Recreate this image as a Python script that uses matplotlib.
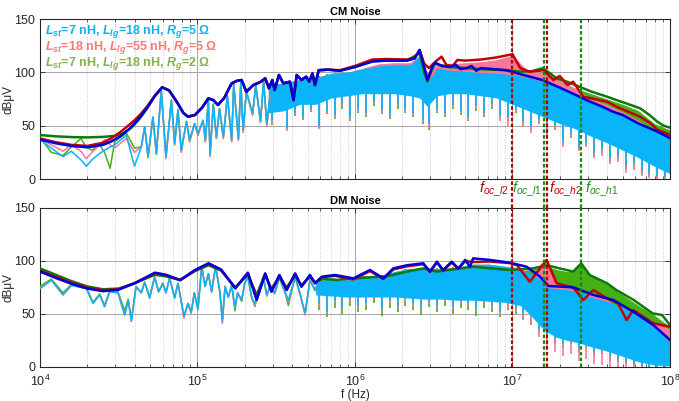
import numpy as np
import matplotlib
matplotlib.use('Agg')
import matplotlib.pyplot as plt
import matplotlib.transforms as mtransforms

plt.rcParams['font.family'] = ['Liberation Sans', 'DejaVu Sans']
plt.rcParams['mathtext.fontset'] = 'custom'
plt.rcParams['mathtext.rm'] = 'Liberation Sans'
plt.rcParams['mathtext.it'] = 'Liberation Sans:italic'
plt.rcParams['mathtext.bf'] = 'Liberation Sans:bold'
plt.rcParams['mathtext.bfit'] = 'Liberation Sans:italic:bold'

# ---------------- data (frequencies as log10(f/Hz), levels in dBuV) ----------------
legend_labels = [r'$\mathbfit{L_{st}}$=7 nH, $\mathbfit{L_{lg}}$=18 nH, $\mathbfit{R_g}$=5 Ω',
                 r'$\mathbfit{L_{st}}$=18 nH, $\mathbfit{L_{lg}}$=55 nH, $\mathbfit{R_g}$=5 Ω',
                 r'$\mathbfit{L_{st}}$=7 nH, $\mathbfit{L_{lg}}$=18 nH, $\mathbfit{R_g}$=2 Ω']

vline_freqs = [1.0e7, 1.58e7, 1.65e7, 2.73e7]
vline_labels = [r'$f_{oc\_l2}$', r'$f_{oc\_l1}$', r'$f_{oc\_h2}$', r'$f_{oc\_h1}$']

# ---- CM noise: envelopes
cm_env_blue_f = [4.00, 4.10, 4.20, 4.30, 4.40, 4.45, 4.51, 4.56, 4.60, 4.64, 4.68, 4.73, 4.776, 4.82, 4.87,
                 4.91, 4.94, 4.984, 5.03, 5.069, 5.10, 5.13, 5.17, 5.217, 5.25, 5.28, 5.31, 5.354, 5.40, 5.43,
                 5.454, 5.475, 5.49, 5.517, 5.545, 5.587, 5.61, 5.63, 5.66, 5.69, 5.71, 5.73, 5.746, 5.77,
                 5.83, 5.905, 6.00, 6.11, 6.20, 6.33, 6.38, 6.41, 6.44, 6.46, 6.49, 6.51, 6.55, 6.60, 6.64,
                 6.67, 6.71, 6.74, 6.77, 6.80, 6.96, 7.07, 7.19, 7.28, 7.38, 7.47, 7.57, 7.64, 7.70, 7.80,
                 7.92, 8.00]
cm_env_blue = [37, 33.5, 31, 29.7, 32, 35, 40, 46, 52, 59, 67, 78, 86, 83, 72,
               62, 58.4, 60, 67, 75.6, 74, 69.4, 76, 89.7, 92, 92.8, 81.8, 88, 91, 94.4,
               85, 92.8, 83.4, 97.5, 89.7, 91.2, 74, 97.5, 92.8, 95.9, 91.2, 99, 88, 102,
               102.5, 101.5, 105, 110, 111, 111, 113, 121, 105, 92.8, 105, 109, 106, 105, 107,
               103, 104, 106, 101.5, 104, 102, 97.5, 92.8, 87, 80.3, 74, 67.8, 63, 60, 52,
               44.4, 38.4]

cm_env_red_f = [4.00, 4.10, 4.20, 4.30, 4.40, 4.45, 4.51, 4.56, 4.60, 4.64, 4.68, 4.73, 4.776, 4.82, 4.87,
                4.91, 4.94, 4.984, 5.03, 5.069, 5.10, 5.13, 5.17, 5.217, 5.25, 5.28, 5.31, 5.354, 5.40, 5.43,
                5.454, 5.475, 5.49, 5.517, 5.545, 5.587, 5.61, 5.63, 5.66, 5.69, 5.71, 5.73, 5.746, 5.77,
                5.83, 5.905, 6.00, 6.11, 6.20, 6.33, 6.38, 6.41, 6.44, 6.47, 6.51, 6.55, 6.58, 6.62, 6.65,
                6.70, 6.80, 6.90, 7.00, 7.05, 7.11, 7.20, 7.26, 7.30, 7.35, 7.385, 7.45, 7.52, 7.60, 7.66,
                7.72, 7.81, 7.88, 7.92, 7.96, 8.00]
cm_env_red = [38, 34.5, 32, 31, 34, 38, 44, 50, 55, 61, 68, 78.5, 86, 83, 72,
              62, 58.4, 60, 67, 75.6, 74, 69.4, 76, 89.7, 92, 92.8, 81.8, 88, 91, 94.4,
              85, 92.8, 83.4, 97.5, 89.7, 91.2, 74, 97.5, 92.8, 95.9, 91.2, 99, 88, 102,
              102.5, 102, 106, 112, 112.5, 112, 114, 121, 108, 104, 110, 114.7, 107, 106, 111.6,
              111, 112, 114, 117, 103.8, 100.6, 102, 92.8, 96.6, 88, 91.2, 77.2, 75, 72.5, 67.8,
              64, 58.4, 52, 46, 44, 41.2]

cm_env_green_f = [4.00, 4.10, 4.20, 4.30, 4.40, 4.48, 4.53, 4.58, 4.63, 4.68, 4.73, 4.776, 4.82, 4.87,
                  4.91, 4.94, 4.984, 5.03, 5.069, 5.10, 5.13, 5.17, 5.217, 5.25, 5.28, 5.31, 5.354, 5.40, 5.43,
                  5.454, 5.475, 5.49, 5.517, 5.545, 5.587, 5.61, 5.63, 5.66, 5.69, 5.71, 5.73, 5.746, 5.77,
                  5.83, 5.905, 6.00, 6.11, 6.33, 6.41, 6.44, 6.46, 6.49, 6.51, 6.60, 6.70, 6.80, 6.96, 7.05,
                  7.12, 7.19, 7.24, 7.28, 7.35, 7.43, 7.50, 7.60, 7.66, 7.72, 7.81, 7.87, 7.92, 7.96, 8.00]
cm_env_green = [41.2, 40, 39.3, 39, 39.5, 40.5, 43, 48, 56, 66, 78, 86, 83, 72,
                62, 58.4, 60, 67, 75.6, 74, 69.4, 76, 89.7, 92, 92.8, 81.8, 88, 91, 94.4,
                85, 92.8, 83.4, 97.5, 89.7, 91.2, 74, 97.5, 92.8, 95.9, 91.2, 99, 88, 102,
                102.5, 101.5, 105, 111, 111, 118, 100, 91.2, 103, 108, 105, 104, 103, 102, 100.6,
                101, 103.8, 99, 94.4, 91, 86.2, 82, 77.2, 74, 71, 66.3, 60, 53.7, 50, 48.1]

# ---- CM noise: low-frequency harmonics
cm_zig_f = [4.00, 4.072, 4.146, 4.199, 4.26, 4.294, 4.33, 4.379, 4.41, 4.445, 4.474, 4.548, 4.60, 4.643,
            4.665, 4.686, 4.717, 4.739, 4.77, 4.80, 4.834, 4.855, 4.876, 4.897, 4.93, 4.95, 4.982, 5.003,
            5.035, 5.05, 5.069, 5.08, 5.10, 5.12, 5.14, 5.164, 5.19, 5.217, 5.23, 5.26, 5.275, 5.29, 5.31,
            5.35, 5.37, 5.40, 5.42, 5.44, 5.47]
cm_zig_blue = [37, 29, 21, 26, 18, 12, 18, 24, 27, 30, 32, 41, 12, 30, 49, 21, 58, 24, 83, 21, 74, 33, 65,
               27, 54, 37, 52, 43, 55, 37, 74, 23, 70, 40, 66, 40, 78, 37, 89, 38, 91, 46, 82, 62, 88, 55,
               92, 52, 90]
cm_zig_pink = [38, 32, 26, 32, 26, 19, 25, 32, 37, 32, 29, 38, 25, 30, 49, 21, 58, 24, 83, 19, 74, 33, 65,
               25, 54, 35, 52, 41, 55, 35, 74, 21, 70, 38, 66, 38, 78, 35, 89, 36, 91, 44, 82, 60, 88, 53,
               92, 50, 90]
cm_zig_green = [39, 25, 22, 30, 38, 30, 27, 32, 25, 10, 35, 43, 29, 30, 49, 20, 58, 23, 83, 20, 74, 32, 65,
                26, 54, 35, 52, 41, 55, 35, 74, 22, 70, 38, 66, 38, 78, 35, 89, 37, 91, 44, 82, 60, 88, 53,
                92, 50, 90]

# ---- CM noise: dense part (upper / lower edge of the spike band)
cm_band_f = [5.45, 5.55, 5.65, 5.75, 5.85, 5.95, 6.05, 6.15, 6.25, 6.35, 6.41, 6.46, 6.52, 6.60, 6.70,
             6.80, 6.90, 7.00, 7.10, 7.20, 7.30, 7.40, 7.50, 7.60, 7.70, 7.80, 7.90, 8.00]
cm_blue_hi = [88, 90, 93, 95, 99, 100, 103, 106, 107, 107, 115, 90, 104, 102, 101, 100, 99, 98, 95, 91,
              86, 79, 73, 66, 59, 52, 45, 38]
cm_blue_lo = [62, 64, 70, 70, 76, 78, 80, 80, 80, 78, 76, 68, 78, 80, 80, 78, 76, 70, 64, 58, 52, 47, 40,
              34, 27, 20, 12, 5]
cm_pink_hi = [88, 90, 93, 95, 99, 100, 104, 108, 109, 109, 116, 100, 107, 108, 109, 110, 112, 116, 101,
              100, 93, 85, 75, 70, 63, 55, 45, 40]
cm_pink_lo = [65, 67, 73, 73, 79, 81, 83, 83, 83, 81, 79, 71, 81, 83, 83, 81, 79, 73, 67, 61, 55, 50, 43,
              37, 30, 23, 15, 8]
cm_green_hi = [88, 90, 93, 95, 99, 100, 103, 106, 107, 107, 112, 88, 103, 102, 101, 100, 99, 99, 99, 101,
               90, 85, 80, 75, 70, 64, 52, 46]
cm_green_lo = [65, 67, 73, 73, 79, 81, 83, 83, 83, 81, 79, 71, 81, 83, 83, 81, 79, 73, 67, 61, 55, 50, 43,
               37, 30, 23, 15, 8]

# ---- CM noise: deepest spikes of the dense part
cm_spk_f = [5.47, 5.52, 5.57, 5.62, 5.67, 5.72, 5.77, 5.82, 5.87, 5.92, 5.97, 6.02, 6.07, 6.12, 6.17,
            6.22, 6.27, 6.32, 6.37, 6.43, 6.47, 6.52, 6.57, 6.62, 6.67, 6.72, 6.77, 6.82, 6.87, 6.92,
            6.97, 7.02, 7.07, 7.12, 7.17, 7.22, 7.27, 7.32, 7.37, 7.42, 7.47, 7.52, 7.57, 7.62, 7.67,
            7.72, 7.77, 7.82, 7.87, 7.92, 7.97]
cm_spk_top = [85, 88, 88, 90, 92, 95, 97, 98, 99, 100, 100, 102, 104, 105, 105, 106, 106, 106, 106, 100,
              95, 100, 100, 100, 100, 100, 98, 98, 98, 97, 97, 95, 93, 90, 88, 86, 83, 80, 76, 73,
              70, 67, 63, 60, 57, 54, 50, 47, 44, 40, 36]
cm_spk_blue = [55, 66, 48, 62, 58, 66, 50, 64, 60, 70, 58, 66, 62, 72, 65, 60, 70, 66, 62, 56,
               52, 66, 62, 70, 64, 58, 68, 62, 70, 60, 58, 66, 54, 50, 56, 44, 50, 36, 42, 30,
               34, 24, 28, 20, 22, 12, 15, 8, 5, 3, 2]
cm_spk_pink = [52, 64, 45, 60, 56, 64, 47, 62, 57, 68, 55, 63, 60, 70, 62, 57, 68, 63, 60, 53,
               48, 63, 60, 67, 62, 55, 66, 60, 67, 54, 50, 63, 50, 43, 52, 40, 46, 30, 38, 26,
               30, 20, 22, 14, 16, 6, 8, 3, 1, 0, 0]
cm_spk_green = [51, 63, 46, 59, 55, 63, 48, 61, 56, 66, 54, 62, 58, 68, 61, 56, 66, 62, 58, 52,
                46, 62, 58, 66, 60, 54, 64, 58, 66, 56, 54, 62, 50, 46, 52, 40, 46, 32, 38, 27,
                31, 21, 24, 16, 18, 9, 11, 5, 3, 1, 0]

# ---- DM noise: envelopes
dm_env_blue_f = [4.00, 4.10, 4.20, 4.30, 4.40, 4.50, 4.60, 4.73, 4.80, 4.89, 4.984, 5.07, 5.15, 5.24,
                 5.32, 5.376, 5.43, 5.47, 5.52, 5.566, 5.62, 5.66, 5.714, 5.746, 5.79, 5.873, 5.99, 6.095,
                 6.18, 6.243, 6.33, 6.434, 6.476, 6.52, 6.56, 6.614, 6.656, 6.70, 6.73, 6.75, 6.857, 6.984,
                 7.09, 7.175, 7.228, 7.386, 7.513, 7.64, 7.767, 7.894, 8.00]
dm_env_blue = [90, 84, 78.5, 74, 71.5, 73, 79, 89, 87, 82, 91.5, 97.8, 92, 74.2,
               89, 63.2, 88.3, 71, 86.8, 72.6, 88.3, 75.8, 86.8, 79, 85.2, 86.8, 83.6, 91.5,
               83.6, 93, 96, 97.8, 90, 99.4, 91.5, 99.4, 93, 101, 94.6, 102.5, 101, 98.4,
               94.6, 85.2, 76.4, 75.2, 68, 63.2, 52.2, 39.6, 25.5]

dm_env_red_f = [4.00, 4.10, 4.20, 4.30, 4.40, 4.50, 4.60, 4.73, 4.80, 4.89, 4.984, 5.07, 5.15, 5.24,
                5.32, 5.376, 5.43, 5.47, 5.52, 5.566, 5.62, 5.66, 5.714, 5.746, 5.79, 5.873, 5.99, 6.095,
                6.18, 6.243, 6.33, 6.434, 6.476, 6.52, 6.56, 6.614, 6.656, 6.70, 6.75, 6.857, 6.984, 7.03,
                7.11, 7.217, 7.28, 7.386, 7.45, 7.513, 7.60, 7.67, 7.725, 7.767, 7.894, 8.00]
dm_env_red = [91, 85, 79.5, 75, 72.5, 73.5, 79, 88.5, 86.5, 82, 91, 97.5, 91.5, 74.5,
              88.5, 64, 88, 71.5, 86.3, 73, 87.8, 76, 86.3, 79, 84.7, 86, 82.6, 90.5,
              83, 92, 95, 97, 89.5, 98.5, 91, 98.5, 92.5, 100, 99, 99.5, 98, 96,
              80.5, 101, 79, 75, 63.2, 72.6, 64.8, 60, 44.3, 53.7, 41.2, 38]

dm_env_green_f = [4.00, 4.10, 4.20, 4.30, 4.40, 4.50, 4.60, 4.73, 4.80, 4.89, 4.984, 5.07, 5.15, 5.24,
                  5.32, 5.376, 5.43, 5.47, 5.52, 5.566, 5.62, 5.66, 5.714, 5.746, 5.80, 5.90, 5.905, 6.21,
                  6.33, 6.434, 6.52, 6.75, 6.98, 7.13, 7.217, 7.30, 7.386, 7.437, 7.49, 7.60, 7.66, 7.77,
                  7.89, 7.95, 8.00]
dm_env_green = [93, 87, 81, 76, 73.3, 74, 79, 87, 85.5, 82, 90.5, 96, 91, 75,
                87, 68, 86, 74, 85, 75, 86, 77, 85, 80, 83, 82, 82.6, 85.8,
                90, 93, 90, 94.6, 91.5, 93, 96, 93, 90, 97.8, 86.8, 79, 72.6, 63.2,
                50.6, 49, 39.6]

# ---- DM noise: low-frequency harmonics
dm_zig_f = [4.00, 4.072, 4.146, 4.20, 4.294, 4.337, 4.379, 4.41, 4.443, 4.495, 4.538, 4.56, 4.58, 4.61,
            4.643, 4.665, 4.696, 4.728, 4.753, 4.78, 4.80, 4.823, 4.855, 4.876, 4.914, 4.94, 4.96, 4.98,
            5.003, 5.027, 5.048, 5.069, 5.09, 5.115, 5.143, 5.158, 5.175, 5.196, 5.217, 5.238, 5.255,
            5.28, 5.30, 5.32, 5.344, 5.365, 5.386, 5.418, 5.44, 5.46, 5.49, 5.52, 5.556, 5.577, 5.62,
            5.65, 5.683, 5.714, 5.746, 5.77]
dm_zig_blue = [74, 82, 68, 77, 74, 60, 68, 57, 71, 70, 49, 63, 43, 76, 70, 80, 65, 85, 71, 79, 70, 84,
               65, 79, 48, 60, 51, 70, 54, 95, 76, 88, 71, 95, 70, 43, 76, 66, 77, 57, 70, 63, 79, 85,
               66, 60, 73, 85, 68, 76, 70, 84, 71, 63, 85, 70, 51, 82, 73, 80]
dm_zig_pink = [74, 82, 68, 77, 74, 60, 68, 57, 71, 70, 49, 63, 43, 76, 70, 80, 65, 85, 71, 79, 70, 84,
               65, 79, 46, 60, 51, 70, 54, 95, 76, 88, 71, 95, 70, 41, 76, 66, 77, 56, 70, 63, 79, 85,
               66, 58, 73, 85, 68, 76, 70, 84, 71, 61, 85, 70, 49, 82, 73, 80]
dm_zig_green = [76, 83, 70, 78, 75, 61, 69, 58, 72, 71, 53, 64, 45, 76, 70, 80, 66, 85, 71, 79, 70, 84,
                66, 79, 48, 60, 52, 70, 55, 95, 76, 88, 71, 95, 70, 45, 76, 66, 77, 53, 70, 62, 79, 85,
                65, 57, 72, 85, 67, 76, 69, 84, 70, 58, 85, 69, 50, 82, 72, 80]

# ---- DM noise: dense part
dm_band_f = [5.75, 5.85, 5.95, 6.05, 6.15, 6.25, 6.35, 6.45, 6.55, 6.65, 6.75, 6.85, 6.95, 7.05, 7.12,
             7.18, 7.22, 7.28, 7.35, 7.44, 7.50, 7.60, 7.70, 7.80, 7.90, 8.00]
dm_blue_hi = [80, 84, 82, 86, 85, 90, 93, 93, 93, 94, 97, 97, 95, 92, 88, 82, 75, 74, 73, 70, 66, 62,
              56, 48, 37, 24]
dm_blue_lo = [68, 67, 66, 66, 66, 66, 65, 64, 64, 63, 63, 62, 61, 58, 48, 38, 33, 28, 25, 22, 19, 15,
              10, 5, 2, 1]
dm_pink_hi = [80, 84, 82, 86, 85, 90, 93, 93, 93, 94, 97, 97, 95, 94, 85, 98, 99, 80, 76, 68, 70, 64,
              52, 50, 41, 36]
dm_pink_lo = [71, 70, 69, 69, 69, 69, 68, 67, 67, 66, 66, 65, 64, 61, 51, 41, 36, 31, 28, 25, 22, 18,
              13, 8, 5, 4]
dm_green_hi = [80, 82, 82, 84, 85, 88, 90, 92, 91, 92, 93, 93, 91, 91, 92, 94, 95, 92, 90, 96, 86, 78,
               68, 58, 49, 38]
dm_green_lo = [71, 70, 69, 69, 69, 69, 68, 67, 67, 66, 66, 65, 64, 61, 51, 41, 36, 31, 28, 25, 22, 18,
               13, 8, 5, 4]

dm_spk_f = [5.77, 5.82, 5.87, 5.92, 5.97, 6.02, 6.07, 6.12, 6.17, 6.22, 6.27, 6.32, 6.37, 6.42, 6.47,
            6.52, 6.57, 6.62, 6.67, 6.72, 6.77, 6.82, 6.87, 6.92, 6.97, 7.02, 7.07, 7.12, 7.17, 7.22,
            7.27, 7.32, 7.37, 7.42, 7.47, 7.52, 7.57, 7.62, 7.67, 7.72, 7.77, 7.82, 7.87, 7.92, 7.97]
dm_spk_top = [78, 80, 80, 82, 82, 84, 85, 84, 86, 88, 90, 92, 92, 92, 92, 93, 93, 94, 95, 96,
              96, 96, 95, 95, 94, 92, 90, 86, 80, 75, 74, 73, 72, 70, 67, 64, 62, 60, 57, 54,
              50, 46, 40, 34, 28]
dm_spk_blue = [60, 52, 62, 56, 64, 58, 60, 66, 55, 62, 58, 64, 60, 56, 62, 58, 64, 57, 62, 60,
               55, 62, 58, 52, 60, 56, 50, 48, 36, 30, 26, 22, 28, 18, 22, 14, 16, 10, 8, 5,
               3, 1, 0, 0, 0]
dm_spk_pink = [58, 50, 60, 54, 62, 56, 58, 64, 53, 60, 56, 62, 58, 54, 60, 56, 62, 55, 60, 58,
               53, 60, 56, 48, 56, 52, 44, 40, 28, 20, 14, 10, 12, 6, 8, 3, 2, 0, 0, 0,
               0, 0, 0, 0, 0]
dm_spk_green = [54, 47, 56, 50, 58, 52, 54, 60, 48, 56, 52, 58, 54, 49, 57, 52, 58, 50, 56, 54,
                48, 56, 52, 47, 54, 50, 44, 40, 32, 26, 22, 18, 22, 14, 17, 10, 12, 6, 5, 3,
                2, 0, 0, 0, 0]

# ---------------- styling ----------------
noise_col = {'blue': '#0AB4F8', 'pink': '#F6779A', 'green': '#46B012'}
env_col = {'blue': '#0000DC', 'red': '#C40000', 'green': '#0A7A0A'}
legend_col = ['#12B0F0', '#FF7878', '#86B04C']
vline_col = ['#B00000', '#128A12', '#B00000', '#128A12']
label_col = ['#C00000', '#1E8C1E', '#C00000', '#1E8C1E']


def hz(logf):
    return 10.0 ** np.asarray(logf)


def draw_panel(ax, zig_f, zig, band_f, band, spk_f, spk_top, spk, env):
    for key in ('green', 'pink', 'blue'):
        ax.fill_between(hz(band_f), band[key][0], band[key][1], color=noise_col[key], lw=0, zorder=2)
        ax.vlines(hz(spk_f), spk[key], spk_top, color=noise_col[key], lw=1.2, zorder=2)
    for key in ('green', 'pink', 'blue'):
        ax.plot(hz(zig_f), zig[key], color=noise_col[key], lw=1.1, zorder=3)
    for key in ('green', 'red', 'blue'):
        f, v = env[key]
        ax.plot(hz(f), v, color=env_col[key], lw=1.8, zorder=4, solid_joinstyle='round')

    ax.set_xscale('log')
    ax.set_xlim(1e4, 1e8)
    ax.set_ylim(0, 150)
    ax.set_yticks([0, 50, 100, 150])
    ax.grid(which='major', color='#a6a6a6', lw=0.7, zorder=0)
    ax.grid(which='minor', axis='x', color='#c8c8c8', ls=':', lw=0.7, zorder=0)
    ax.tick_params(which='both', direction='in', top=True, right=True, labelsize=9, colors='#262626')
    ax.tick_params(which='major', length=3.5, width=0.6)
    ax.tick_params(which='minor', length=2, width=0.5)
    for s in ax.spines.values():
        s.set_linewidth(0.8)
        s.set_color('#262626')
    ax.set_ylabel('dBμV', fontsize=8.5, color='#262626')
    ax.yaxis.set_label_coords(-0.04, 0.5)


fig = plt.figure(figsize=(6.79, 4.01), dpi=100)
ax1 = fig.add_axes([0.0589, 0.5536, 0.9278, 0.3990])
ax2 = fig.add_axes([0.0589, 0.0848, 0.9278, 0.3965])

draw_panel(ax1, cm_zig_f,
           {'blue': cm_zig_blue, 'pink': cm_zig_pink, 'green': cm_zig_green},
           cm_band_f,
           {'blue': (cm_blue_lo, cm_blue_hi), 'pink': (cm_pink_lo, cm_pink_hi),
            'green': (cm_green_lo, cm_green_hi)},
           cm_spk_f, cm_spk_top,
           {'blue': cm_spk_blue, 'pink': cm_spk_pink, 'green': cm_spk_green},
           {'blue': (cm_env_blue_f, cm_env_blue), 'red': (cm_env_red_f, cm_env_red),
            'green': (cm_env_green_f, cm_env_green)})
draw_panel(ax2, dm_zig_f,
           {'blue': dm_zig_blue, 'pink': dm_zig_pink, 'green': dm_zig_green},
           dm_band_f,
           {'blue': (dm_blue_lo, dm_blue_hi), 'pink': (dm_pink_lo, dm_pink_hi),
            'green': (dm_green_lo, dm_green_hi)},
           dm_spk_f, dm_spk_top,
           {'blue': dm_spk_blue, 'pink': dm_spk_pink, 'green': dm_spk_green},
           {'blue': (dm_env_blue_f, dm_env_blue), 'red': (dm_env_red_f, dm_env_red),
            'green': (dm_env_green_f, dm_env_green)})

ax1.tick_params(labelbottom=False)
ax2.tick_params(axis='x', pad=5)
ax1.set_title('CM Noise', fontsize=8, fontweight='bold', pad=3)
ax2.set_title('DM Noise', fontsize=8, fontweight='bold', pad=3)
ax2.set_xlabel('f (Hz)', fontsize=8.5, color='#262626', labelpad=0)

# legend as coloured text
for i, (lab, col) in enumerate(zip(legend_labels, legend_col)):
    ax1.text(0.008, 0.919 - i * 0.097, lab, transform=ax1.transAxes, color=col,
             fontsize=9, fontweight='bold', va='center', ha='left', zorder=6)

# vertical markers running through both panels
gap = 29 / 160
trans1 = mtransforms.blended_transform_factory(ax1.transData, ax1.transAxes)
label_anchor = [(vline_freqs[0], -2.5, 'right'), (vline_freqs[1], -1.5, 'right'),
                (vline_freqs[2], 1.5, 'left'), (vline_freqs[3], 2.5, 'left')]
for i, f in enumerate(vline_freqs):
    ax1.axvline(f, ymin=-gap, ymax=1, color=vline_col[i], ls=(0, (1.6, 1.0)), lw=1.6,
                clip_on=False, zorder=5)
    ax2.axvline(f, color=vline_col[i], ls=(0, (1.6, 1.0)), lw=1.6, zorder=5)
    xa, off, ha = label_anchor[i]
    ax1.annotate(vline_labels[i], xy=(xa, -0.065), xycoords=trans1, xytext=(off, 0),
                 textcoords='offset points', ha=ha, va='center', fontsize=10.5,
                 color=label_col[i], annotation_clip=False)

fig.savefig('out.png', dpi=100)
